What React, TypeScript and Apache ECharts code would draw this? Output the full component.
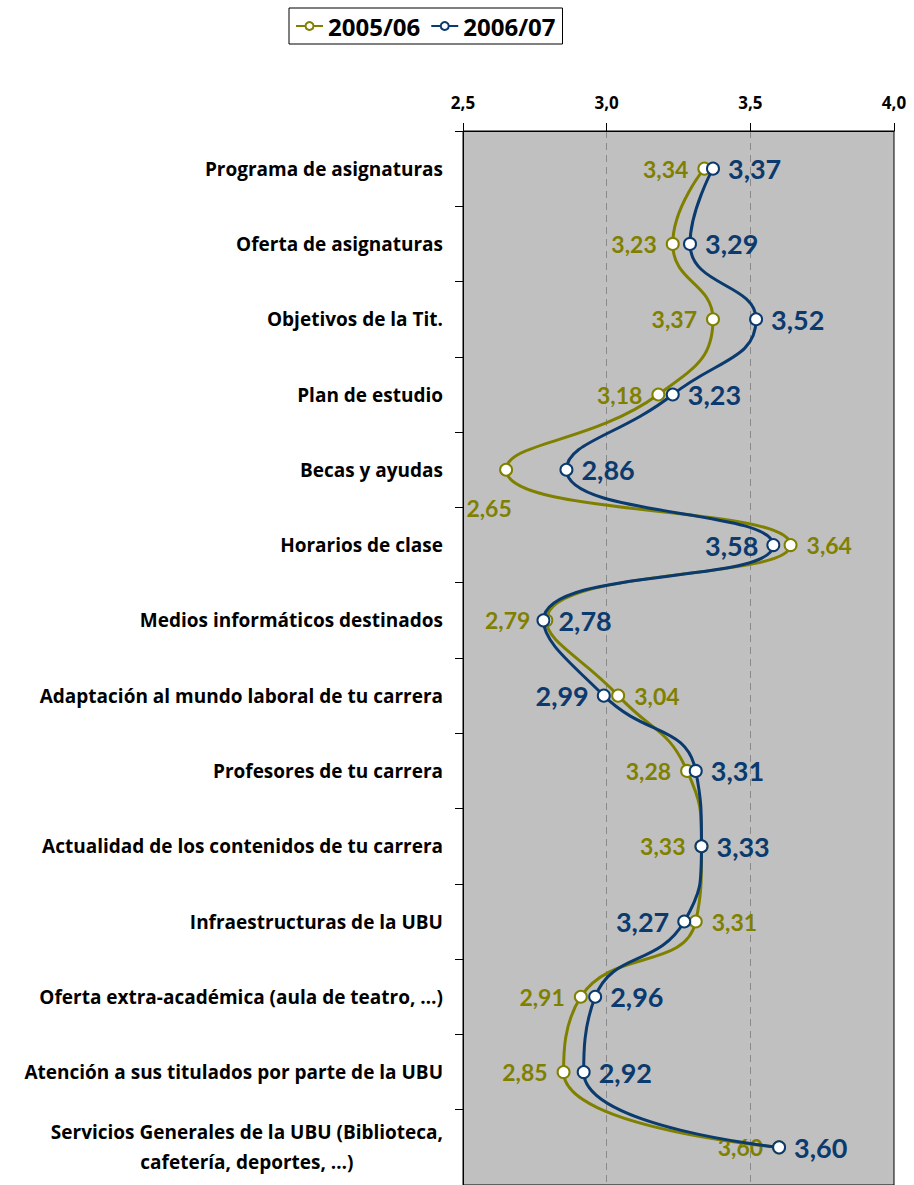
import React, { useEffect, useRef } from "react";
import * as echarts from "echarts";

const categories = [
  "Programa de asignaturas",
  "Oferta de asignaturas",
  "Objetivos de la Tit.",
  "Plan de estudio",
  "Becas y ayudas",
  "Horarios de clase",
  "Medios informáticos destinados",
  "Adaptación al mundo laboral de tu carrera",
  "Profesores de tu carrera",
  "Actualidad de los contenidos de tu carrera",
  "Infraestructuras de la UBU",
  "Oferta extra-académica (aula de teatro, …)",
  "Atención a sus titulados por parte de la UBU",
  "Servicios Generales de la UBU (Biblioteca,\ncafetería, deportes, …)",
];

const serie0506 = [3.34, 3.23, 3.37, 3.18, 2.65, 3.64, 2.79, 3.04, 3.28, 3.33, 3.31, 2.91, 2.85, 3.6];
const serie0607 = [3.37, 3.29, 3.52, 3.23, 2.86, 3.58, 2.78, 2.99, 3.31, 3.33, 3.27, 2.96, 2.92, 3.6];

const seriesNames = ["2005/06", "2006/07"];
const xTicks = { min: 2.5, max: 4.0, interval: 0.5 };

// label sides (style)
const side0506 = ["left", "left", "left", "left", "below", "right", "left", "right", "left", "left", "right", "left", "left", "left"];
const side0607 = ["right", "right", "right", "right", "right", "left", "right", "left", "right", "right", "left", "right", "right", "right"];

const OLIVE = "#808000";
const BLUE = "#0a3a6e";
const FONT = "Lato";
const TFONT = "Open Sans";

const fmt = (v: number) => v.toFixed(2).replace(".", ",");

function buildData(values: number[], sides: string[]) {
  return values.map((v, i) => {
    const s = sides[i];
    if (s === "below") {
      return { value: v, label: { position: "bottom", distance: 10, offset: [-17, 10] } };
    }
    return { value: v, label: { position: s } };
  });
}

export default function App() {
  const ref = useRef<HTMLDivElement>(null);
  useEffect(() => {
    if (!ref.current) return;
    const chart = echarts.init(ref.current, undefined, { renderer: "svg" });
    const lastIdx = categories.length - 1;
    chart.setOption({
      animation: false,
      backgroundColor: "#ffffff",
      legend: {
        top: 8,
        left: 289,
        data: seriesNames,
        borderColor: "#000",
        borderWidth: 1,
        padding: [6, 7, 6, 6],
        itemGap: 10,
        itemWidth: 27,
        itemHeight: 10,
        textStyle: { fontFamily: TFONT, fontWeight: "bold", fontSize: 24, color: "#000" },
      },
      grid: {
        left: 463,
        top: 131,
        width: 431,
        height: 1060,
        show: true,
        backgroundColor: "#c0c0c0",
        borderColor: "#000",
        borderWidth: 1,
      },
      xAxis: {
        type: "value",
        position: "top",
        min: xTicks.min,
        max: xTicks.max,
        interval: xTicks.interval,
        axisLine: { show: true, lineStyle: { color: "#000", width: 1 } },
        axisTick: { show: true, length: 8, lineStyle: { color: "#000" } },
        axisLabel: {
          formatter: (v: number) => v.toFixed(1).replace(".", ","),
          fontFamily: TFONT,
          fontWeight: "bold",
          fontSize: 17,
          color: "#000",
          margin: 20,
        },
        splitLine: {
          show: true,
          lineStyle: {
            type: [7, 5],
            color: ["rgba(0,0,0,0)", "#8a8a8a", "#8a8a8a", "rgba(0,0,0,0)"],
            width: 1,
          },
        },
      },
      yAxis: {
        type: "category",
        inverse: true,
        data: categories,
        axisLine: { show: true, lineStyle: { color: "#000", width: 1 } },
        axisTick: { show: true, length: 8, alignWithLabel: false, lineStyle: { color: "#000" } },
        axisLabel: {
          interval: 0,
          margin: 20,
          fontFamily: TFONT,
          fontWeight: "bold",
          fontSize: 19,
          color: "#000",
          lineHeight: 30,
          formatter: (v: string, i: number) => {
            if (i === lastIdx) {
              return v
                .split("\n")
                .map((l) => "{c|" + l + "}")
                .join("\n");
            }
            return v;
          },
          rich: {
            c: {
              align: "center",
              fontFamily: TFONT,
              fontWeight: "bold",
              fontSize: 19,
              color: "#000",
              lineHeight: 30,
            },
          },
        },
      },
      series: [
        {
          name: seriesNames[0],
          type: "line",
          smooth: 0.5,
          data: buildData(serie0506, side0506),
          symbol: "emptyCircle",
          symbolSize: 12,
          itemStyle: { color: OLIVE, borderWidth: 1.5 },
          lineStyle: { color: OLIVE, width: 3 },
          z: 2,
          label: {
            show: true,
            distance: 9,
            formatter: (p: any) => fmt(p.value),
            color: OLIVE,
            fontFamily: FONT,
            fontWeight: "bold",
            fontSize: 23,
          },
        },
        {
          name: seriesNames[1],
          type: "line",
          smooth: 0.5,
          data: buildData(serie0607, side0607),
          symbol: "emptyCircle",
          symbolSize: 12,
          itemStyle: { color: BLUE, borderWidth: 1.5 },
          lineStyle: { color: BLUE, width: 3 },
          z: 3,
          label: {
            show: true,
            distance: 8,
            formatter: (p: any) => fmt(p.value),
            color: BLUE,
            fontFamily: FONT,
            fontWeight: "bold",
            fontSize: 27,
          },
        },
      ],
    });
    return () => chart.dispose();
  }, []);
  return (
    <div
      ref={ref}
      style={{ position: "absolute", left: 0, top: 0, width: 914, height: 1185 }}
    />
  );
}
